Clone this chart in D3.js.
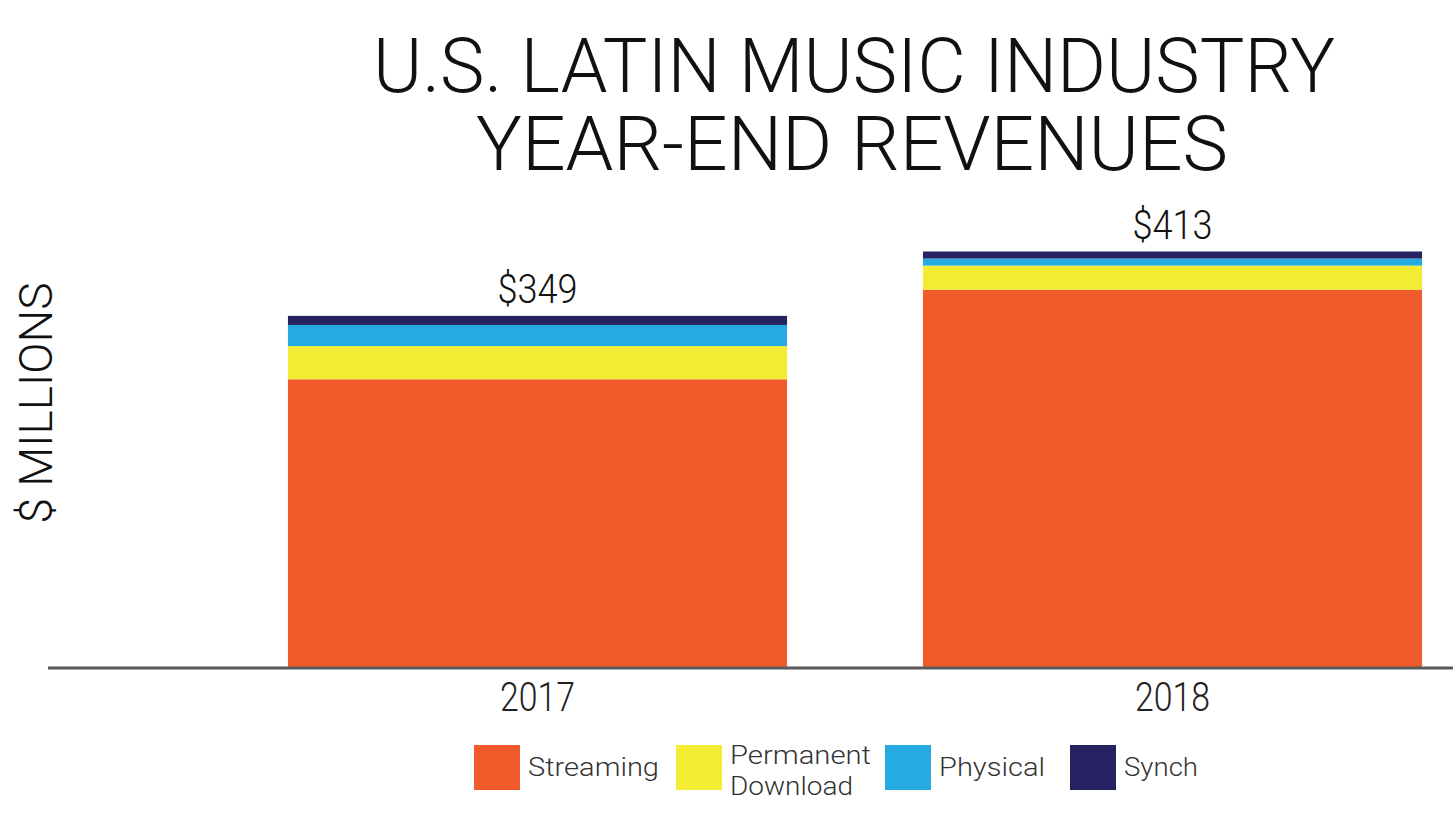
<!DOCTYPE html>
<html><head><meta charset="utf-8">
<script src="https://cdn.jsdelivr.net/npm/d3@7"></script>
<style>html,body{margin:0;padding:0;background:#fff;}svg{display:block;}</style>
</head><body>
<svg id="c" width="1453" height="817"></svg>
<script>
const years = ["2017", "2018"];
const seriesNames = ["Streaming", "Permanent Download", "Physical", "Synch"];
const streaming = [286, 375];
const permanentDownload = [33, 24];
const physical = [21, 7];
const synch = [9, 7];
const totalLabels = ["$349", "$413"];
const colors = ["#F15A2B", "#F4EC33", "#25AAE1", "#262262"];

const svg = d3.select("#c");
const font = "Roboto, 'DejaVu Sans', sans-serif";

const rows = years.map((y, i) => ({year: y, Streaming: streaming[i], "Permanent Download": permanentDownload[i], Physical: physical[i], Synch: synch[i]}));
const stack = d3.stack().keys(seriesNames)(rows);

const x = d3.scaleBand().domain(years).range([220, 1490]).paddingInner(0.214).paddingOuter(0.107);
const y = d3.scaleLinear().domain([0, 413]).range([667, 251.5]);
const color = d3.scaleOrdinal().domain(seriesNames).range(colors);

// title
const title = svg.append("g").attr("font-family", font).attr("font-weight", 300).attr("fill", "#111").attr("text-anchor", "middle");
title.append("text").attr("x", 854).attr("y", 92).attr("font-size", 76)
  .attr("textLength", 962).attr("lengthAdjust", "spacingAndGlyphs").text("U.S. LATIN MUSIC INDUSTRY");
title.append("text").attr("x", 852).attr("y", 170).attr("font-size", 76)
  .attr("textLength", 752).attr("lengthAdjust", "spacingAndGlyphs").text("YEAR-END REVENUES");

// y label
svg.append("text").attr("transform", "translate(52,403) rotate(-90)")
  .attr("text-anchor", "middle").attr("font-family", font).attr("font-weight", 300).attr("font-size", 47).attr("fill", "#111")
  .attr("textLength", 241).attr("lengthAdjust", "spacingAndGlyphs").text("$ MILLIONS");

// bars
svg.append("g").selectAll("g").data(stack).join("g")
  .attr("fill", d => color(d.key))
  .selectAll("rect").data(d => d).join("rect")
  .attr("x", d => x(d.data.year))
  .attr("width", x.bandwidth())
  .attr("y", d => y(d[1]))
  .attr("height", d => y(d[0]) - y(d[1]));

// totals
svg.append("g").selectAll("text").data(years).join("text")
  .attr("x", d => x(d) + x.bandwidth() / 2)
  .attr("y", (d, i) => y(d3.sum(stack, s => s[i][1] - s[i][0])) - 13)
  .attr("text-anchor", "middle").attr("font-family", font).attr("font-weight", 300).attr("font-size", 40).attr("fill", "#111")
  .attr("textLength", 80).attr("lengthAdjust", "spacingAndGlyphs")
  .text((d, i) => totalLabels[i]);

// baseline axis
const axis = svg.append("g").attr("transform", "translate(0,668)")
  .call(d3.axisBottom(x).tickSize(0).tickPadding(14));
axis.select(".domain").attr("d", "M48,0H1453").attr("stroke", "#5a5a5a").attr("stroke-width", 3);
axis.selectAll(".tick text").attr("font-family", font).attr("font-weight", 300).attr("font-size", 41).attr("fill", "#222")
  .attr("dy", "0.71em").attr("textLength", 75).attr("lengthAdjust", "spacingAndGlyphs");

// legend
const legendX = [474, 676, 885, 1070];
const legendTextW = [131, 141, 106, 74];
const lg = svg.append("g").attr("font-family", font).attr("font-weight", 300).attr("font-size", 26).attr("fill", "#333");
seriesNames.forEach((name, i) => {
  lg.append("rect").attr("x", legendX[i]).attr("y", 745).attr("width", 46).attr("height", 45).attr("fill", color(name));
  const parts = name === "Permanent Download" ? ["Permanent", "Download"] : [name];
  parts.forEach((p, j) => {
    const by = parts.length === 1 ? 776 : 764 + j * 31;
    lg.append("text").attr("x", legendX[i] + 54).attr("y", by)
      .attr("textLength", p === "Download" ? 123 : legendTextW[i]).attr("lengthAdjust", "spacingAndGlyphs").text(p);
  });
});
</script>
</body></html>
